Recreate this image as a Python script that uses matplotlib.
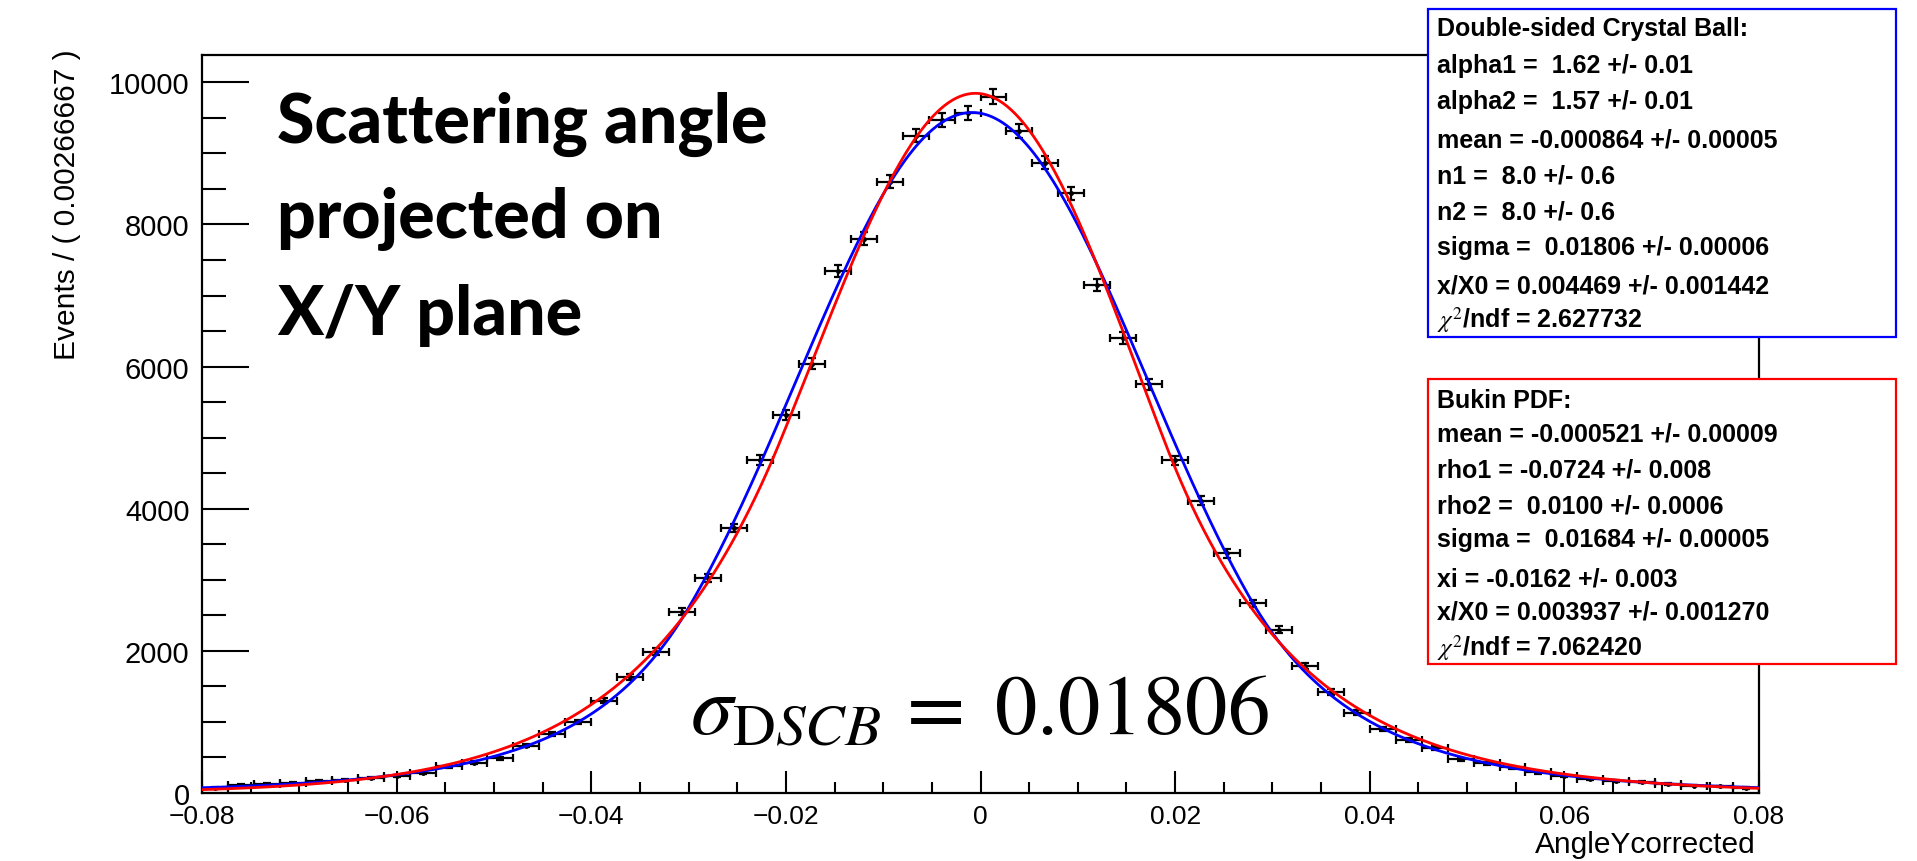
import numpy as np
import matplotlib
matplotlib.use('Agg')
import matplotlib.pyplot as plt
from matplotlib.patches import Rectangle

# histogram: 60 bins of width 0.00266667 on [-0.08, 0.08]
x_lo, x_hi = -0.08, 0.08
n_bins = 60
events = [70, 110, 130, 145, 165, 180, 205, 234, 282, 375,
          425, 488, 668, 830, 1000, 1300, 1635, 1990, 2550, 3020,
          3730, 4690, 5320, 6040, 7350, 7800, 8600, 9250, 9470, 9570,
          9800, 9310, 8870, 8440, 7150, 6400, 5750, 4680, 4110, 3370,
          2670, 2300, 1780, 1420, 1130, 900, 750, 630, 475, 420,
          360, 290, 240, 195, 170, 155, 125, 105, 95, 70]

# fit results
dscb_mean, dscb_sigma = -0.000864, 0.01806
dscb_alpha1, dscb_alpha2 = 1.62, 1.57
dscb_n1, dscb_n2 = 8.0, 8.0
dscb_peak = 9575

bukin_mean, bukin_sigma = -0.000521, 0.01684
bukin_xi, bukin_rho1, bukin_rho2 = -0.0162, -0.0724, 0.0100
bukin_peak = 9845

dscb_lines = ["Double-sided Crystal Ball:",
              "alpha1 =  1.62 +/- 0.01",
              "alpha2 =  1.57 +/- 0.01",
              "mean = -0.000864 +/- 0.00005",
              "n1 =  8.0 +/- 0.6",
              "n2 =  8.0 +/- 0.6",
              "sigma =  0.01806 +/- 0.00006",
              "x/X0 = 0.004469 +/- 0.001442",
              r"$\chi^{2}$/ndf = 2.627732"]
bukin_lines = ["Bukin PDF:",
               "mean = -0.000521 +/- 0.00009",
               "rho1 = -0.0724 +/- 0.008",
               "rho2 =  0.0100 +/- 0.0006",
               "sigma =  0.01684 +/- 0.00005",
               "xi = -0.0162 +/- 0.003",
               "x/X0 = 0.003937 +/- 0.001270",
               r"$\chi^{2}$/ndf = 7.062420"]

xtick_labels = ['\u22120.08', '\u22120.06', '\u22120.04', '\u22120.02',
                '0', '0.02', '0.04', '0.06', '0.08']
ytick_labels = ['0', '2000', '4000', '6000', '8000', '10000']


def dscb(x, m, s, a1, n1, a2, n2):
    t = (x - m) / s
    out = np.exp(-0.5 * t**2)
    A1 = (n1 / a1)**n1 * np.exp(-0.5 * a1**2)
    B1 = n1 / a1 - a1
    A2 = (n2 / a2)**n2 * np.exp(-0.5 * a2**2)
    B2 = n2 / a2 - a2
    lo = t < -a1
    hi = t > a2
    out[lo] = A1 * (B1 - t[lo])**(-n1)
    out[hi] = A2 * (B2 + t[hi])**(-n2)
    return out


def bukin(x, xp, sigp, xi, rho1, rho2):
    # same piecewise form as RooBukinPdf
    hp = sigp * 2 * np.sqrt(2 * np.log(2))
    r3 = np.log(2.)
    r4 = np.sqrt(xi**2 + 1)
    r1 = xi / r4
    r5 = xi / np.log(r4 + xi) if abs(xi) > np.exp(-6.) else 1.
    x1 = xp + hp / 2 * (r1 - 1)
    x2 = xp + hp / 2 * (r1 + 1)
    r2 = np.zeros_like(x)
    left = x < x1
    right = x >= x2
    mid = ~left & ~right
    xl = x[left]
    r2[left] = (rho1 * ((xl - x1) / (xp - x1))**2 - r3
                + 4 * r3 * (xl - x1) / hp * r5 * r4 / (r4 - xi)**2)
    xm = x[mid]
    q = np.log(1 + 4 * xi * r4 * (xm - xp) / hp) / np.log(1 + 2 * xi * (xi - r4))
    r2[mid] = -r3 * q**2
    xr = x[right]
    r2[right] = (rho2 * ((xr - x2) / (xp - x2))**2 - r3
                 - 4 * r3 * (xr - x2) / hp * r5 * r4 / (r4 + xi)**2)
    return np.exp(r2)


plt.rcParams['font.family'] = 'Liberation Sans'
plt.rcParams['mathtext.fontset'] = 'stix'

W, H = 1917, 862
fig = plt.figure(figsize=(W / 100, H / 100), dpi=100)

def fx(px):
    return px / W

def fy(py):
    return 1 - py / H

ax = fig.add_axes([fx(202), fy(794), fx(1759) - fx(202), fy(56) - fy(794)])

edges = np.linspace(x_lo, x_hi, n_bins + 1)
centers = 0.5 * (edges[1:] + edges[:-1])
half_w = 0.5 * (edges[1] - edges[0])
counts = np.array(events, dtype=float)

ax.errorbar(centers, counts, yerr=np.sqrt(counts), xerr=half_w,
            fmt='o', ms=2.5, color='black', ecolor='black',
            elinewidth=1.6, capsize=3.0, capthick=1.6, zorder=2)

xx = np.linspace(x_lo, x_hi, 800)
ax.plot(xx, dscb_peak * dscb(xx, dscb_mean, dscb_sigma, dscb_alpha1, dscb_n1,
                             dscb_alpha2, dscb_n2),
        color='#0000ff', lw=2.0, zorder=3)
ax.plot(xx, bukin_peak * bukin(xx, bukin_mean, bukin_sigma, bukin_xi,
                               bukin_rho1, bukin_rho2),
        color='#ff0000', lw=2.0, zorder=4)

ax.set_xlim(x_lo, x_hi)
ax.set_ylim(0, 10384)
ax.set_xticks(np.linspace(-0.08, 0.08, 9))
ax.set_xticks(np.linspace(-0.08, 0.08, 33), minor=True)
ax.set_yticks(np.arange(0, 10001, 2000))
ax.set_yticks(np.arange(0, 10384, 500), minor=True)
ax.set_xticklabels(xtick_labels, fontsize=19)
ax.set_yticklabels(ytick_labels, fontsize=21)

ax.tick_params(axis='x', which='major', direction='in', length=16, width=1.5, pad=8)
ax.tick_params(axis='x', which='minor', direction='in', length=8, width=1.5)
ax.tick_params(axis='y', which='major', direction='in', length=34, width=1.5, pad=9)
ax.tick_params(axis='y', which='minor', direction='in', length=17, width=1.5)
ax.tick_params(top=False, right=False, which='both')
for sp in ax.spines.values():
    sp.set_linewidth(1.6)

fig.text(fx(67), fy(49), 'Events / ( 0.00266667 )', rotation=90,
         ha='center', va='top', fontsize=21.5)
fig.text(fx(1756), fy(853), 'AngleYcorrected', ha='right', va='baseline',
         fontsize=21.5)

# heading inside the frame
for text, base in zip(['Scattering angle', 'projected on', 'X/Y plane'], [143, 238, 335]):
    fig.text(fx(277), fy(base), text, ha='left', va='baseline',
             family='Lato', fontweight='black', fontsize=49)

fig.text(fx(690), fy(734), r'$\sigma_{\mathrm{D}SCB}\,=\;0.01806$',
         ha='left', va='baseline', fontsize=61)

# parameter boxes
boxes = [((1428, 10, 1896, 338), '#0000ff', dscb_lines,
          [36, 73, 109, 148, 184, 220, 255, 293, 328]),
         ((1428, 380, 1896, 665), '#ff0000', bukin_lines,
          [408, 442, 478, 514, 547, 587, 620, 656])]
for (x0, y0, x1, y1), col, lines, bases in boxes:
    fig.patches.append(Rectangle((fx(x0), fy(y1)), fx(x1) - fx(x0), fy(y0) - fy(y1),
                                 transform=fig.transFigure, facecolor='white',
                                 edgecolor=col, lw=1.6, zorder=5))
    for line, b in zip(lines, bases):
        fig.text(fx(1437), fy(b), line, ha='left', va='baseline',
                 fontweight='bold', fontsize=18, zorder=6)

fig.savefig('out.png', dpi=100)
